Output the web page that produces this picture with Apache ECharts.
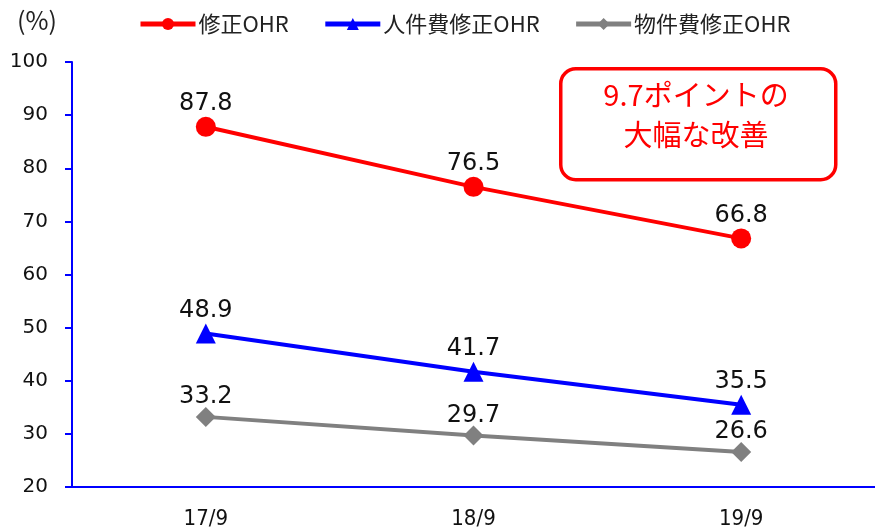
<!DOCTYPE html>
<html>
<head>
<meta charset="utf-8">
<script src="https://cdn.jsdelivr.net/npm/echarts@6/dist/echarts.min.js"></script>
<style>
  html, body { margin: 0; padding: 0; background: #fff; }
  #main { width: 875px; height: 530px; }
</style>
</head>
<body>
<div id="main"></div>
<script>
// 期間
const categories = ['17/9', '18/9', '19/9'];
// 系列データ (%)
const ohr = [87.8, 76.5, 66.8];
const personnelOhr = [48.9, 41.7, 35.5];
const propertyOhr = [33.2, 29.7, 26.6];
const seriesNames = ['修正OHR', '人件費修正OHR', '物件費修正OHR'];
const yTicks = [20, 100, 10]; // min, max, interval

function makeSeries(name, data, color, symbol, size, dist) {
  return {
    name: name,
    type: 'line',
    data: data,
    symbol: symbol,
    symbolSize: size,
    lineStyle: { color: color, width: 4 },
    itemStyle: { color: color },
    label: {
      show: true,
      position: 'top',
      distance: dist,
      color: '#111',
      fontSize: 24,
      fontFamily: 'DejaVu Sans'
    },
    z: 3
  };
}

let myChart = echarts.init(document.getElementById('main'));
let option = {
  animation: false,
  legend: {
    top: 8,
    left: 133,
    itemWidth: 55,
    itemHeight: 15,
    itemGap: 34,
    lineStyle: { width: 5 },
    textStyle: {
      color: '#222',
      fontSize: 22,
      fontFamily: 'Noto Sans CJK JP',
      padding: [0, 0, 0, -2]
    },
    data: seriesNames
  },
  grid: {
    left: 72,
    top: 62,
    width: 810,
    height: 426
  },
  xAxis: {
    type: 'category',
    data: categories,
    axisLine: { lineStyle: { color: '#0000ff', width: 2 } },
    axisTick: { show: false },
    axisLabel: {
      color: '#111',
      fontSize: 22,
      fontFamily: 'DejaVu Sans Condensed, Liberation Sans',
      margin: 21
    }
  },
  yAxis: {
    type: 'value',
    min: yTicks[0],
    max: yTicks[1],
    interval: yTicks[2],
    axisLine: { show: true, lineStyle: { color: '#0000ff', width: 2 } },
    axisTick: { show: true, length: 7, lineStyle: { color: '#0000ff', width: 2 } },
    splitLine: { show: false },
    axisLabel: {
      color: '#111',
      fontSize: 20,
      fontFamily: 'DejaVu Sans',
      margin: 24,
      padding: [0, 0, 8, 0]
    }
  },
  graphic: [
    {
      type: 'text',
      left: 17,
      top: 8,
      style: {
        text: '(%)',
        fill: '#222',
        fontSize: 25,
        fontFamily: 'Noto Sans CJK JP'
      }
    },
    {
      type: 'rect',
      left: 559,
      top: 67,
      shape: { width: 275, height: 111, r: 15 },
      style: { fill: '#fff', stroke: '#ff0000', lineWidth: 3.5 },
      z: 10
    },
    {
      type: 'text',
      x: 696,
      y: 75,
      style: {
        text: '9.7ポイントの\n大幅な改善',
        fill: '#ff0000',
        fontSize: 29,
        lineHeight: 40,
        align: 'center',
        fontFamily: 'Noto Sans CJK JP'
      },
      z: 11
    }
  ],
  series: [
    makeSeries(seriesNames[0], ohr, '#ff0000', 'circle', 20, 1),
    makeSeries(seriesNames[1], personnelOhr, '#0000ff', 'triangle', 20, 1),
    makeSeries(seriesNames[2], propertyOhr, '#808080', 'diamond', 20, -2)
  ]
};
myChart.setOption(option);
</script>
</body>
</html>
